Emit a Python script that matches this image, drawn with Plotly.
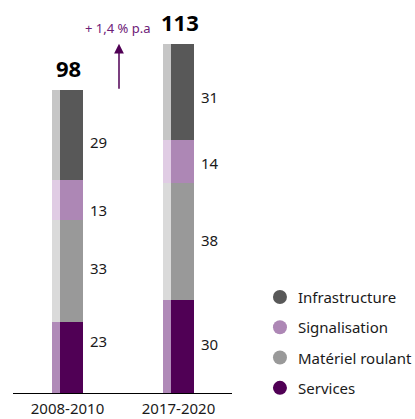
import plotly.graph_objects as go

# Periods and investment by segment (stacked bottom to top)
periods = ["2008-2010", "2017-2020"]
segments = ["Services", "Matériel roulant", "Signalisation", "Infrastructure"]
services = [23, 30]
materiel = [33, 38]
signalisation = [13, 14]
infrastructure = [29, 31]
totals = [98, 113]
growth_text = "+ 1,4 % p.a"

series = [services, materiel, signalisation, infrastructure]

# Styling
main_colors = ["#500055", "#999999", "#ad87b5", "#585858"]
side_colors = ["#b08ab8", "#dadada", "#e0cce4", "#c6c6c6"]
label_shift = [[16, 3], [3, 2], [-10, -2], [-7, -5]]
FONT = "Noto Sans"

fig = go.Figure()

base = [0] * len(periods)
for i, (name, vals) in enumerate(zip(segments, series)):
    # light strip on the left side of each column
    fig.add_trace(go.Bar(
        x=periods, y=vals, base=base, name=name,
        marker=dict(color=side_colors[i], line=dict(width=0)),
        offset=-0.1396, width=0.072, showlegend=False, hoverinfo="skip",
    ))
    # main column segment
    fig.add_trace(go.Bar(
        x=periods, y=vals, base=base, name=name,
        marker=dict(color=main_colors[i], line=dict(width=0)),
        offset=-0.0676, width=0.2072, showlegend=False,
    ))
    for j, p in enumerate(periods):
        fig.add_annotation(
            x=p, y=base[j] + vals[j] / 2, xref="x", yref="y",
            text=str(vals[j]), showarrow=False, xanchor="left",
            yanchor="middle", xshift=20, yshift=label_shift[i][j],
            font=dict(family=FONT, size=15, color="#1a1a1a"),
        )
    base = [b + v for b, v in zip(base, vals)]

# Totals above each column
for p, t in zip(periods, totals):
    fig.add_annotation(
        x=p, y=t, xref="x", yref="y", text=f"<b>{t}</b>", showarrow=False,
        yanchor="middle", yshift=22, xshift=1,
        font=dict(family=FONT, size=22, color="#000000"),
    )

# Growth arrow between the two totals
arrow_x = 0.464
fig.add_annotation(
    x=arrow_x, y=totals[1], ax=arrow_x, ay=totals[0],
    xref="x", yref="y", axref="x", ayref="y",
    showarrow=True, arrowhead=2, arrowsize=1.3, arrowwidth=1.5,
    arrowcolor="#500055", text="",
)
fig.add_annotation(
    x=arrow_x, y=totals[1], xref="x", yref="y", text=growth_text,
    showarrow=False, yanchor="middle", yshift=16, xshift=-1,
    font=dict(family=FONT, size=13, color="#6d2077"),
)

# Legend: circles and names, top entry is the top segment
for k, i in enumerate(reversed(range(len(segments)))):
    yp = 0.2444 - k * 0.0771
    fig.add_shape(
        type="circle", xref="paper", yref="paper",
        xsizemode="pixel", ysizemode="pixel",
        xanchor=1.219, yanchor=yp, x0=-7, x1=7, y0=-7, y1=7,
        fillcolor=main_colors[i], line=dict(width=0),
    )
    fig.add_annotation(
        x=1.219, y=yp, xref="paper", yref="paper", text=segments[i],
        showarrow=False, xanchor="left", yanchor="middle", xshift=16,
        font=dict(family=FONT, size=15, color="#1a1a1a"),
    )

fig.update_layout(
    width=415, height=419,
    margin=dict(l=13, r=183, t=0, b=26),
    barmode="overlay", bargap=0,
    paper_bgcolor="white", plot_bgcolor="white",
    showlegend=False,
    font=dict(family=FONT, color="#1a1a1a"),
)
fig.update_xaxes(
    type="category", range=[-0.491, 1.482],
    showline=True, linecolor="#000000", linewidth=1,
    showgrid=False, zeroline=False, ticks="",
    tickfont=dict(family=FONT, size=15, color="#1a1a1a"),
    ticklabelstandoff=2, automargin=False,
)
fig.update_yaxes(
    range=[0, 127.2], visible=False, showgrid=False, zeroline=False,
    automargin=False,
)

fig.write_html("out.html")
